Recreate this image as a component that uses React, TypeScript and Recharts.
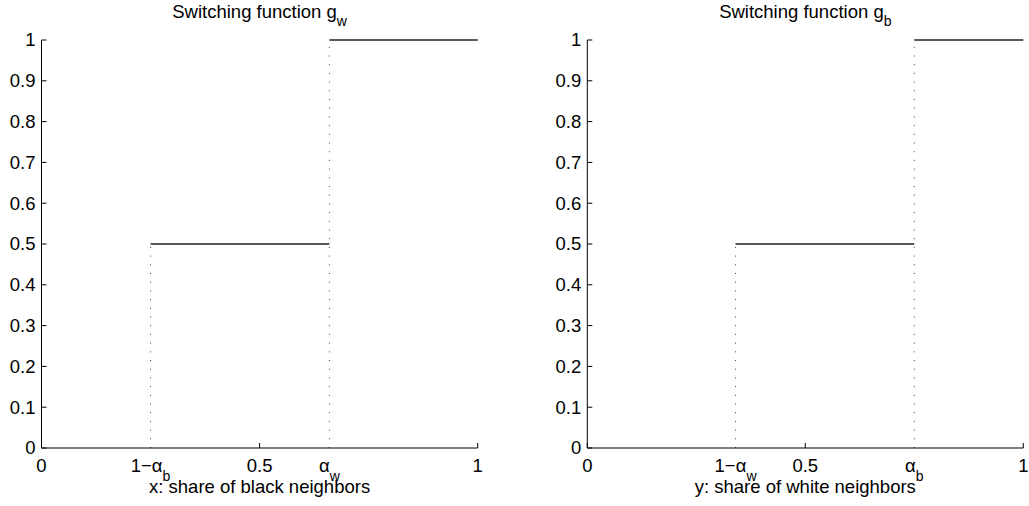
import React from "react";
import { LineChart, Line, XAxis, YAxis, Label } from "recharts";

// shared y ticks
const yTicks = [0, 0.1, 0.2, 0.3, 0.4, 0.5, 0.6, 0.7, 0.8, 0.9, 1];
const markedXTicks = [0, 0.5, 1];

// g_w panel
const gwTicks = [0, 0.25, 0.5, 0.66, 1];
const gwTickLabels = [["0"], ["1−α", "b"], ["0.5"], ["α", "w"], ["1"]];
const gwHalf = [
  { x: 0.25, y: 0.5 },
  { x: 0.66, y: 0.5 },
];
const gwOne = [
  { x: 0.66, y: 1 },
  { x: 1, y: 1 },
];
const gwGuideLow = [
  { x: 0.25, y: 0 },
  { x: 0.25, y: 0.5 },
];
const gwGuideHigh = [
  { x: 0.66, y: 0 },
  { x: 0.66, y: 1 },
];

// g_b panel
const gbTicks = [0, 0.34, 0.5, 0.75, 1];
const gbTickLabels = [["0"], ["1−α", "w"], ["0.5"], ["α", "b"], ["1"]];
const gbHalf = [
  { x: 0.34, y: 0.5 },
  { x: 0.75, y: 0.5 },
];
const gbOne = [
  { x: 0.75, y: 1 },
  { x: 1, y: 1 },
];
const gbGuideLow = [
  { x: 0.34, y: 0 },
  { x: 0.34, y: 0.5 },
];
const gbGuideHigh = [
  { x: 0.75, y: 0 },
  { x: 0.75, y: 1 },
];

const FONT = "'Liberation Sans', Arial, Helvetica, sans-serif";
const FS = 18.5;
const SUB = 14;

function XTick(props: any) {
  const { x, y, payload, ticks, labels } = props;
  const i = ticks.indexOf(payload.value);
  const lab = labels[i] || [String(payload.value)];
  return (
    <g>
      {markedXTicks.includes(payload.value) && (
        <line x1={x} x2={x} y1={y} y2={y - 5} stroke="#000" strokeWidth={1} />
      )}
      <text x={x} y={y + 24} textAnchor="middle" fontSize={FS} fontFamily={FONT} fill="#000">
        <tspan>{lab[0]}</tspan>
        {lab[1] && (
          <tspan dy={9} fontSize={SUB}>
            {lab[1]}
          </tspan>
        )}
      </text>
    </g>
  );
}

function YTick(props: any) {
  const { x, y, payload } = props;
  return (
    <g>
      <line x1={x} x2={x + 5} y1={y} y2={y} stroke="#000" strokeWidth={1} />
      <text x={x - 6} y={y} dy="0.35em" textAnchor="end" fontSize={FS} fontFamily={FONT} fill="#000">
        {payload.value}
      </text>
    </g>
  );
}

function Panel({ left, width, yWidth, right, sub, xLabel, ticks, labels, half, one, low, high }: any) {
  const plotLeft = yWidth;
  const plotWidth = width - yWidth - right;
  return (
    <div style={{ position: "absolute", left, top: 0, width, height: 506 }}>
      <div
        style={{
          position: "absolute",
          left: plotLeft,
          width: plotWidth,
          top: 1,
          textAlign: "center",
          fontSize: FS,
          lineHeight: "21px",
          fontFamily: FONT,
          whiteSpace: "nowrap",
        }}
      >
        Switching function g
        <span style={{ fontSize: SUB, position: "relative", top: 8 }}>{sub}</span>
      </div>
      <LineChart width={width} height={506} margin={{ top: 40, right, bottom: 0, left: 0 }}>
        <XAxis
          type="number"
          dataKey="x"
          domain={[0, 1]}
          ticks={ticks}
          interval={0}
          height={58}
          tickSize={0}
          tickMargin={0}
          tickLine={false}
          axisLine={{ stroke: "#000", strokeWidth: 1 }}
          tick={<XTick ticks={ticks} labels={labels} />}
        >
          <Label
            content={({ viewBox }: any) => (
              <text
                x={viewBox.x + viewBox.width / 2}
                y={viewBox.y + 45}
                textAnchor="middle"
                fontSize={FS}
                fontFamily={FONT}
                fill="#000"
              >
                {xLabel}
              </text>
            )}
          />
        </XAxis>
        <YAxis
          type="number"
          dataKey="y"
          domain={[0, 1]}
          ticks={yTicks}
          interval={0}
          width={yWidth}
          tickSize={0}
          tickMargin={0}
          tickLine={false}
          axisLine={{ stroke: "#000", strokeWidth: 1 }}
          tick={<YTick />}
        />
        <Line data={low} dataKey="y" type="linear" stroke="#444" strokeWidth={1} strokeDasharray="1 7.7" dot={false} activeDot={false} isAnimationActive={false} />
        <Line data={high} dataKey="y" type="linear" stroke="#444" strokeWidth={1} strokeDasharray="1 7.7" dot={false} activeDot={false} isAnimationActive={false} />
        <Line data={half} dataKey="y" type="linear" stroke="#222" strokeWidth={1.3} dot={false} activeDot={false} isAnimationActive={false} />
        <Line data={one} dataKey="y" type="linear" stroke="#222" strokeWidth={1.3} dot={false} activeDot={false} isAnimationActive={false} />
      </LineChart>
    </div>
  );
}

export default function App() {
  return (
    <div style={{ position: "absolute", left: 0, top: 0, width: 1029, height: 506, background: "#fff" }}>
      <Panel
        left={0}
        width={520}
        yWidth={41.5}
        right={42.3}
        sub="w"
        xLabel="x: share of black neighbors"
        ticks={gwTicks}
        labels={gwTickLabels}
        half={gwHalf}
        one={gwOne}
        low={gwGuideLow}
        high={gwGuideHigh}
      />
      <Panel
        left={520}
        width={509}
        yWidth={67.3}
        right={5.7}
        sub="b"
        xLabel="y: share of white neighbors"
        ticks={gbTicks}
        labels={gbTickLabels}
        half={gbHalf}
        one={gbOne}
        low={gbGuideLow}
        high={gbGuideHigh}
      />
    </div>
  );
}
